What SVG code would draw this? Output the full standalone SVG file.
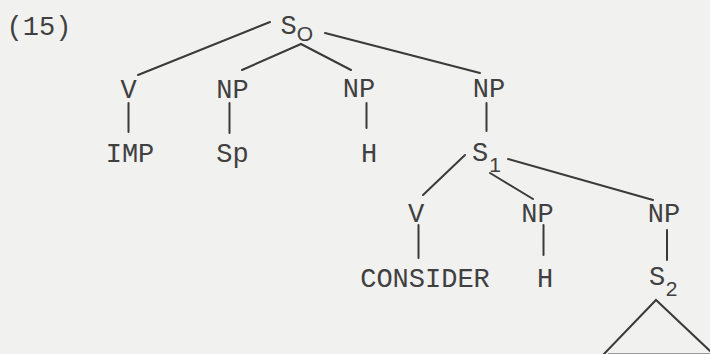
<svg xmlns="http://www.w3.org/2000/svg" width="710" height="354" viewBox="0 0 710 354">
  <style>
    .t { font-family: "Liberation Mono", "Courier New", monospace; font-size: 27px; fill: #404040; text-anchor: middle; }
    .sub { font-family: "Liberation Sans", Arial, sans-serif; font-size: 21px; fill: #404040; text-anchor: middle; }
    .e { stroke: #3a3a3a; stroke-width: 2; fill: none; stroke-linecap: round; }
  </style>
  <rect x="0" y="0" width="710" height="354" fill="#f1f1f0"/>
  <g id="label-15"><text class="t" x="39" y="35">(15)</text></g>
  <g id="S0"><text class="t" x="288.5" y="33.5">S</text><text class="sub" x="305" y="41">O</text></g>
  <g id="V1"><text class="t" x="128.5" y="98">V</text></g>
  <g id="NP1"><text class="t" x="232.5" y="98">NP</text></g>
  <g id="NP2"><text class="t" x="359" y="97">NP</text></g>
  <g id="NP3"><text class="t" x="489" y="97">NP</text></g>
  <g id="IMP"><text class="t" x="130" y="161.5">IMP</text></g>
  <g id="Sp"><text class="t" x="232.5" y="161.5">Sp</text></g>
  <g id="H1"><text class="t" x="369" y="161.5">H</text></g>
  <g id="S1"><text class="t" x="480" y="161">S</text><text class="sub" x="495" y="172">1</text></g>
  <g id="V2"><text class="t" x="416" y="222">V</text></g>
  <g id="NP4"><text class="t" x="537.5" y="222">NP</text></g>
  <g id="NP5"><text class="t" x="664" y="222">NP</text></g>
  <g id="CONSIDER"><text class="t" x="425" y="287">CONSIDER</text></g>
  <g id="H2"><text class="t" x="545" y="287">H</text></g>
  <g id="S2"><text class="t" x="657" y="285">S</text><text class="sub" x="671.5" y="296">2</text></g>
  <g id="triangle"><path class="e" d="M604,354 L656,300 L710,351"/><path d="M608,353.5 L710,353.5" stroke="#9a9a9a" stroke-width="1" fill="none"/></g>
  <g id="connectors">
    <path class="e" d="M270,22 L138,75"/>
    <path class="e" d="M301,44 L242,70"/>
    <path class="e" d="M301,44 L351,70"/>
    <path class="e" d="M325,33 L480,73"/>
    <path class="e" d="M128.5,103 L128.5,132"/>
    <path class="e" d="M229.5,103 L229.5,133"/>
    <path class="e" d="M366.5,103 L366.5,128"/>
    <path class="e" d="M486.5,103 L486.5,131"/>
    <path class="e" d="M465,155 L423,195"/>
    <path class="e" d="M490,173 L533,199"/>
    <path class="e" d="M508,159 L653,200"/>
    <path class="e" d="M418.5,225 L418.5,258"/>
    <path class="e" d="M543.5,225 L543.5,255"/>
    <path class="e" d="M667,230 L667,260"/>
  </g>
</svg>
